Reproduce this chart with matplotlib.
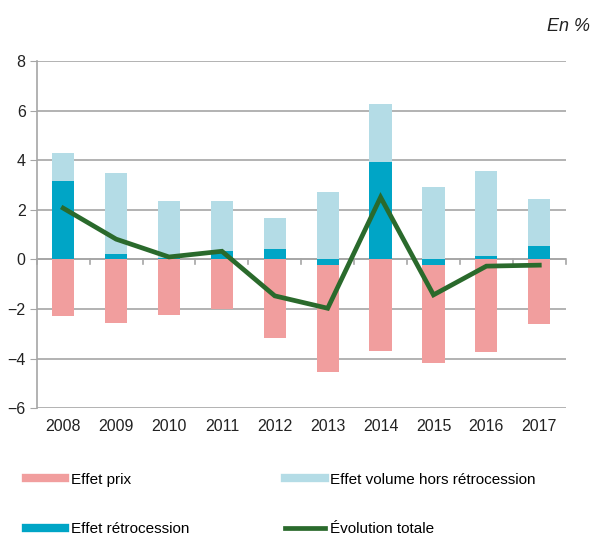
import matplotlib.pyplot as plt
from matplotlib.lines import Line2D
import numpy as np

plt.rcParams["font.family"] = ["Liberation Sans", "DejaVu Sans"]

years = ["2008", "2009", "2010", "2011", "2012", "2013", "2014", "2015", "2016", "2017"]
effet_prix = [-2.28, -2.55, -2.24, -2.0, -3.15, -4.32, -3.68, -3.95, -3.72, -2.6]
effet_volume = [1.15, 3.24, 2.29, 1.99, 1.25, 2.72, 2.37, 2.92, 3.42, 1.87]
effet_retro = [3.15, 0.24, 0.05, 0.35, 0.44, -0.23, 3.92, -0.23, 0.13, 0.55]
evolution_totale = [2.07, 0.82, 0.1, 0.33, -1.47, -1.97, 2.51, -1.43, -0.27, -0.23]

c_prix = "#f19e9e"
c_volume = "#b4dce6"
c_retro = "#00a5c6"
c_line = "#2a6a2c"
c_grid = "#a6a6a6"

fig = plt.figure(figsize=(5.93, 5.37), dpi=100)
ax = fig.add_axes([0.062, 0.240, 0.892, 0.646])

x = np.arange(len(years))
retro = np.array(effet_retro)
w = 0.42

ax.bar(x, retro, width=w, color=c_retro, zorder=3)
ax.bar(x, effet_volume, width=w, bottom=np.maximum(retro, 0), color=c_volume, zorder=3)
ax.bar(x, effet_prix, width=w, bottom=np.minimum(retro, 0), color=c_prix, zorder=3)
ax.plot(x, evolution_totale, color=c_line, linewidth=3.4, zorder=4, solid_joinstyle="miter")

ax.set_xlim(-0.5, len(years) - 0.5)
ax.set_ylim(-6, 8)
ax.set_yticks(range(-6, 9, 2))
ax.set_xticks(x)
ax.set_xticklabels(years)
ax.tick_params(axis="x", length=0, pad=8, labelsize=11.5, colors="#222222")
ax.tick_params(axis="y", length=5, color=c_grid, labelsize=11.5, colors="#222222", pad=3)
ax.yaxis.grid(True, color=c_grid, linewidth=1.2, zorder=0)
ax.set_axisbelow(True)
for s in ["top", "right", "bottom"]:
    ax.spines[s].set_visible(False)
ax.spines["left"].set_color(c_grid)
ax.spines["left"].set_linewidth(1.2)

# zero line with category separators
ax.axhline(0, color=c_grid, linewidth=1.2, zorder=2)
for b in np.arange(-0.5, len(years), 1.0):
    ax.plot([b, b], [0, -0.2], color=c_grid, linewidth=1.2, zorder=2, clip_on=False)

fig.text(0.995, 0.95, "En %", ha="right", va="center", fontsize=13, style="italic", color="#222222")

# legend filled column by column: prix, retro | volume, total
handles = [
    Line2D([], [], color=c_prix, linewidth=6),
    Line2D([], [], color=c_retro, linewidth=6),
    Line2D([], [], color=c_volume, linewidth=6),
    Line2D([], [], color=c_line, linewidth=3.4),
]
labels = ["Effet prix", "Effet rétrocession", "Effet volume hors rétrocession", "Évolution totale"]
fig.legend(handles, labels, ncol=2, loc="lower left", bbox_to_anchor=(0.025, -0.018),
           frameon=False, fontsize=11, handlelength=2.6, handletextpad=0.35,
           columnspacing=6.3, labelspacing=2.3, borderaxespad=0.3)

fig.savefig("out.png", dpi=100)
